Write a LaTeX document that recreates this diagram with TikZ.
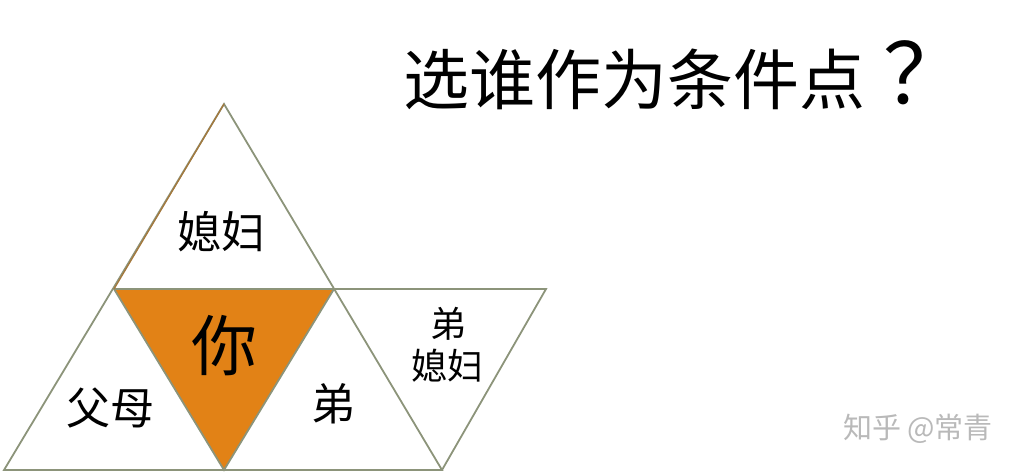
\documentclass[tikz,border=0pt]{standalone}
\usepackage{fontspec}
\newfontfamily\cjk{Noto Sans CJK SC}
\definecolor{edgegray}{RGB}{140,148,122}
\definecolor{edgebrown}{RGB}{165,120,60}
\definecolor{youorange}{RGB}{226,130,22}
\definecolor{markgray}{RGB}{185,185,185}
\tikzset{
  tri/.style={draw=edgegray, line width=1.8pt, line join=miter},
  lbl/.style={font=\cjk\fontsize{44}{50}\selectfont, inner sep=0pt, text=black},
  small/.style={font=\cjk\fontsize{36}{42}\selectfont, inner sep=0pt, text=black, align=center},
}
\begin{document}
\begin{tikzpicture}[x=1pt,y=-1pt]
\useasboundingbox (0,0) rectangle (1026,473);
% vertices
\coordinate (A) at (224,104);
\coordinate (B) at (4,470);
\coordinate (C) at (442,470);
\coordinate (D) at (114,289);
\coordinate (E) at (334,289);
\coordinate (F) at (224,470);
\coordinate (G) at (546,289);
% triangles
\fill[youorange] (D) -- (E) -- (F) -- cycle;
\draw[tri] (A) -- (B) -- (C) -- cycle;
\draw[tri] (D) -- (E) -- (F) -- cycle;
\draw[tri] (E) -- (G) -- (C);
\draw[draw=edgebrown, line width=1.3pt] (A) -- (D);
% labels
\node[lbl] (wife) at (221,232) {媳妇};
\node[lbl, font=\cjk\fontsize{66}{70}\selectfont] (you) at (224,346) {你};
\node[lbl] (parents) at (110,408) {父母};
\node[lbl] (bro) at (333,404) {弟};
\node[small] (bw1) at (448,324) {弟};
\node[small] (bw2) at (447,366) {媳妇};
\node[font=\cjk\fontsize{66}{72}\selectfont, inner sep=0pt, anchor=west] (title) at (403,75) {选谁作为条件点\hspace{18pt}{\fontsize{84}{84}\selectfont ？}};
\node[font=\cjk\fontsize{29}{33}\selectfont, text=markgray, inner sep=0pt] (mark) at (918,429) {知乎 @常青};
\end{tikzpicture}
\end{document}
